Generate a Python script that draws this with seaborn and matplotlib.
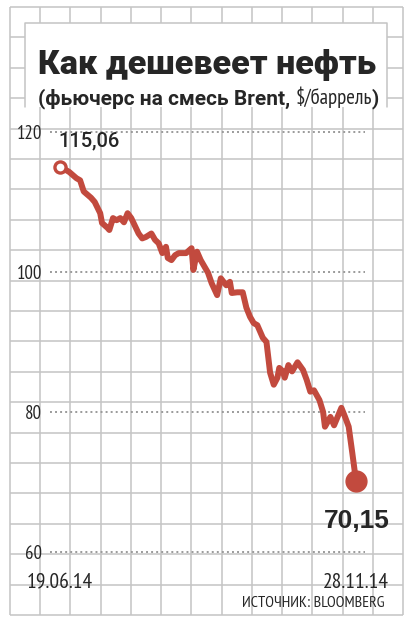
import pandas as pd
import matplotlib
matplotlib.use("Agg")
import matplotlib.pyplot as plt
import seaborn as sns
from matplotlib.patches import Rectangle

# Brent futures, $/barrel
dates = ["2014-06-19", "2014-06-24", "2014-06-28", "2014-06-30", "2014-07-02", "2014-07-06",
         "2014-07-08", "2014-07-11", "2014-07-12", "2014-07-15", "2014-07-16", "2014-07-18",
         "2014-07-20", "2014-07-22", "2014-07-24", "2014-07-26", "2014-07-28", "2014-08-01",
         "2014-08-03", "2014-08-05", "2014-08-08", "2014-08-10", "2014-08-12", "2014-08-14",
         "2014-08-16", "2014-08-17", "2014-08-19", "2014-08-21", "2014-08-23", "2014-08-27",
         "2014-08-30", "2014-08-31", "2014-09-02", "2014-09-04", "2014-09-08", "2014-09-10",
         "2014-09-13", "2014-09-15", "2014-09-18", "2014-09-20", "2014-09-21", "2014-09-24",
         "2014-09-27", "2014-09-28", "2014-09-29", "2014-10-01", "2014-10-03", "2014-10-05",
         "2014-10-08", "2014-10-10", "2014-10-12", "2014-10-14", "2014-10-16", "2014-10-17",
         "2014-10-19", "2014-10-20", "2014-10-22", "2014-10-24", "2014-10-27", "2014-10-30",
         "2014-11-01", "2014-11-03", "2014-11-05", "2014-11-08", "2014-11-10", "2014-11-11",
         "2014-11-14", "2014-11-16", "2014-11-20", "2014-11-22", "2014-11-24", "2014-11-26",
         "2014-11-28"]
prices = [115.06, 114.3, 113.4, 113.1, 111.5, 110.6,
          110.0, 108.4, 107.0, 106.3, 106.0, 107.7,
          107.4, 107.7, 107.1, 108.4, 107.7, 105.5,
          104.8, 105.0, 105.5, 104.6, 104.1, 102.7,
          103.6, 102.0, 101.7, 102.4, 102.7, 102.7,
          103.4, 100.3, 102.9, 101.7, 99.9, 98.4,
          96.7, 99.1, 98.1, 98.6, 97.0, 97.1,
          97.1, 96.0, 94.9, 93.6, 92.7, 92.4,
          90.6, 90.0, 85.6, 83.9, 84.9, 86.3,
          85.8, 84.9, 86.7, 85.8, 87.1, 86.0,
          84.6, 82.9, 83.1, 81.7, 80.0, 77.9,
          79.3, 78.1, 80.6, 79.3, 77.9, 74.1,
          70.15]
y_ticks = [60, 80, 100, 120]
x_tick_labels = ["19.06.14", "28.11.14"]
start_label = "115,06"
end_label = "70,15"
title = "Как дешевеет нефть"
subtitle = ["(фьючерс на смесь Brent, ", "$/баррель", ")"]
source = "ИСТОЧНИК: BLOOMBERG"

df = pd.DataFrame({"date": pd.to_datetime(dates), "price": prices})

sns.set_style("white")
plt.rcParams["font.family"] = ["Liberation Sans", "DejaVu Sans"]
narrow = ["PT Sans Narrow", "Roboto Condensed", "DejaVu Sans"]
heavy = ["Roboto", "DejaVu Sans"]

red = "#c24a3e"
grid_col = "#c4c4c4"
W, H = 416, 625

fig = plt.figure(figsize=(W / 100, H / 100), dpi=100)

# background: square grid in pixel coordinates
bg = fig.add_axes([0, 0, 1, 1])
bg.set_xlim(0, W)
bg.set_ylim(H, 0)
bg.axis("off")
gx = [10 + 30.23 * i for i in range(14)]
gy = [7 + 30.4 * i for i in range(21)]
bg.vlines(gx, 7, 615, color=grid_col, lw=1.1)
bg.hlines(gy, 10, 403, color=grid_col, lw=1.1)
bg.add_patch(Rectangle((25, 23), 362, 84, facecolor="white", edgecolor="none", zorder=2))
bg.plot([25, 25, 387, 387], [107, 23, 23, 107], color=grid_col, lw=1.1, zorder=3)

bg.text(38, 74, title, family=heavy, fontweight=900, fontsize=24.5, ha="left",
        va="baseline", zorder=4)

renderer = fig.canvas.get_renderer()
x0 = 38
for part, w in zip(subtitle, ["bold", "normal", "bold"]):
    fam = narrow if w == "normal" else heavy
    t = bg.text(x0, 104, part, family=fam, fontweight=w, fontsize=15, ha="left",
                va="baseline", zorder=4)
    bb = t.get_window_extent(renderer)
    x0 += bb.width

bg.text(384, 607, source, family=narrow, fontsize=11.5, ha="right", va="baseline", zorder=4)

# data axes
ax = fig.add_axes([45 / W, 52 / H, 330 / W, 455 / H])
ax.set_facecolor("none")
px_per_day = 296 / 162
d0 = df["date"].iloc[0]
ax.set_xlim(d0 - pd.Timedelta(days=15 / px_per_day), d0 + pd.Timedelta(days=315 / px_per_day))
ax.set_ylim(57, 122)

for v in y_ticks:
    ax.axhline(v, xmin=5 / 330, xmax=320 / 330, color="#9a9a9a", ls=(0, (1, 1.6)), lw=1.4)

sns.lineplot(data=df, x="date", y="price", ax=ax, color=red, lw=4.3,
             solid_joinstyle="round", solid_capstyle="round", zorder=5)
ax.plot(df["date"].iloc[[0]], df["price"].iloc[[0]], "o", ms=8, mfc="white", mec=red,
        mew=2.4, zorder=6)
ax.plot(df["date"].iloc[[-1]], df["price"].iloc[[-1]], "o", ms=15, color=red, zorder=6)

ax.annotate(start_label, (df["date"].iloc[0], df["price"].iloc[0]), xytext=(-2, 20),
            textcoords="offset pixels", ha="left", va="baseline", fontsize=14.5,
            family=heavy, fontweight="medium")
ax.annotate(end_label, (df["date"].iloc[-1], df["price"].iloc[-1]), xytext=(34, -47),
            textcoords="offset pixels", ha="right", va="baseline", fontsize=19,
            fontweight="bold")

ax.set_yticks(y_ticks)
ax.set_yticklabels([str(v) for v in y_ticks], family=narrow, fontsize=13.5)
ax.set_xticks([df["date"].iloc[0], df["date"].iloc[-1]])
ax.set_xticklabels(x_tick_labels, family=narrow, fontsize=15.5)
ax.tick_params(axis="y", length=0, pad=2)
ax.tick_params(axis="x", length=0, pad=0)
ax.set_xlabel("")
ax.set_ylabel("")
sns.despine(ax=ax, left=True, bottom=True)

fig.savefig("out.png", dpi=100)
